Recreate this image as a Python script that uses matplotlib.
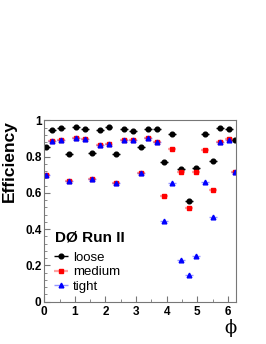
import numpy as np
import matplotlib
matplotlib.use('Agg')
import matplotlib.pyplot as plt
from matplotlib.ticker import MultipleLocator

plt.rcParams['font.family'] = ['Liberation Sans', 'DejaVu Sans']

# data
phi = [0.056, 0.252, 0.547, 0.798, 1.037, 1.322, 1.570, 1.822, 2.100, 2.355,
       2.607, 2.902, 3.153, 3.382, 3.696, 3.925, 4.177, 4.472, 4.723, 4.962,
       5.256, 5.509, 5.748, 6.042, 6.248]
loose = [0.851, 0.947, 0.959, 0.814, 0.965, 0.950, 0.821, 0.947, 0.963, 0.814,
         0.950, 0.941, 0.853, 0.950, 0.950, 0.768, 0.927, 0.732, 0.555, 0.735,
         0.923, 0.776, 0.956, 0.950, 0.891]
medium = [0.698, 0.886, 0.891, 0.665, 0.901, 0.895, 0.676, 0.864, 0.868, 0.653,
          0.891, 0.891, 0.711, 0.904, 0.879, 0.584, 0.842, 0.713, 0.515, 0.717,
          0.836, 0.614, 0.882, 0.895, 0.717]
tight = [0.698, 0.886, 0.891, 0.665, 0.901, 0.895, 0.676, 0.864, 0.868, 0.653,
         0.891, 0.891, 0.711, 0.904, 0.879, 0.447, 0.653, 0.230, 0.147, 0.254,
         0.662, 0.467, 0.882, 0.891, 0.717]
xerr = 0.13

fig = plt.figure(figsize=(2.66, 3.44), dpi=100)
ax = fig.add_axes([0.1665, 0.123, 0.7225, 0.527])

ax.errorbar(phi, loose, xerr=xerr, fmt='o', color='black', ms=3.4,
            elinewidth=1.0, capsize=0, label='loose')
ax.errorbar(phi, medium, xerr=xerr, fmt='s', color='red', ms=3.4,
            ecolor=(1, 0.4, 0.4, 0.6), elinewidth=1.6, capsize=0, label='medium')
ax.errorbar(phi, tight, xerr=xerr, fmt='^', color='blue', ms=3.4,
            ecolor=(0.3, 0.3, 1, 0.6), elinewidth=1.0, capsize=0, label='tight')

ax.set_xlim(0, 2 * np.pi)
ax.set_ylim(0, 1)
ax.xaxis.set_major_locator(MultipleLocator(1))
ax.xaxis.set_minor_locator(MultipleLocator(0.5))
ax.yaxis.set_minor_locator(MultipleLocator(0.04))
ax.set_yticks([0, 0.2, 0.4, 0.6, 0.8, 1])
ax.set_yticklabels(['0', '0.2', '0.4', '0.6', '0.8', '1'])

for s in ax.spines.values():
    s.set_color('#777777')
ax.tick_params(which='both', direction='in', colors='#777777', labelcolor='black',
               labelsize=8.5, top=False, right=False)
ax.tick_params(which='major', length=4)
ax.tick_params(which='minor', length=2)
ax.tick_params(axis='x', pad=3)
ax.tick_params(axis='y', pad=2)
for lab in ax.get_xticklabels() + ax.get_yticklabels():
    lab.set_fontweight('bold')

ax.set_ylabel('Efficiency', fontsize=12.5, fontweight='bold', loc='top', labelpad=6)
ax.set_xlabel('\u03d5', fontsize=13, loc='right', family='DejaVu Serif', labelpad=1)

fig.text(55 / 266, 1 - 237.5 / 344, 'DØ Run II', fontsize=11, fontweight='bold',
         ha='left', va='center')
ax.legend(loc='upper left', bbox_to_anchor=(53 / 266, 1 - 251.5 / 344),
          bbox_transform=fig.transFigure, frameon=False, fontsize=9.5,
          handlelength=1.2, handletextpad=0.3, labelspacing=0.18,
          borderpad=0, borderaxespad=0)

fig.savefig('out.png', dpi=100)
